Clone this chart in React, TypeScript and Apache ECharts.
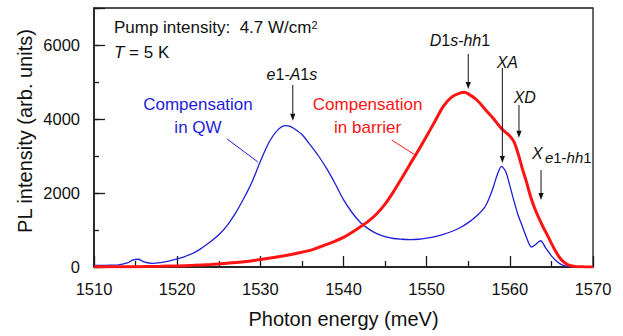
import React, { useEffect, useRef } from 'react';
import * as echarts from 'echarts';

const FONT = '"Liberation Sans", Arial, Helvetica, sans-serif';

// Compensation in QW (blue)
const qwEnergy = [
  1510, 1511, 1512, 1513, 1514, 1514.7, 1515.3, 1516, 1517, 1518, 1519, 1520,
  1521, 1522, 1523, 1524, 1525, 1526, 1527, 1528, 1529, 1530, 1531, 1532, 1533,
  1533.5, 1534, 1535, 1536, 1537, 1538, 1539, 1540, 1541, 1542, 1543, 1544,
  1545, 1546, 1547, 1548, 1549, 1550, 1551, 1552, 1553, 1554, 1555, 1556, 1557,
  1557.5, 1558, 1558.5, 1559, 1559.5, 1560, 1560.5, 1561, 1561.5, 1562, 1562.6,
  1563, 1563.7, 1564.3, 1565, 1565.5, 1566, 1566.5, 1567, 1568, 1570,
];
const qwIntensity = [
  40, 45, 50, 60, 110, 190, 210, 140, 100, 120, 160, 220,
  290, 380, 520, 680, 870, 1120, 1450, 1850, 2300, 2850, 3350, 3680, 3820,
  3810, 3750, 3580, 3300, 3000, 2650, 2250, 1820, 1480, 1210, 1030, 900,
  820, 770, 750, 740, 750, 780, 820, 880, 960, 1060, 1200, 1380, 1620,
  1850, 2150, 2500, 2720, 2580, 2200, 1780, 1400, 1100, 800, 540,
  590, 710, 520, 300, 180, 90, 40, 15, 5, 0,
];

// Compensation in barrier (red)
const barrierEnergy = [
  1510, 1515, 1518, 1520, 1522, 1524, 1525, 1526, 1528, 1530, 1532, 1534, 1535,
  1536, 1537, 1538, 1539, 1540, 1541, 1542, 1543, 1544, 1545, 1546, 1547, 1548,
  1549, 1550, 1551, 1552, 1553, 1554, 1554.5, 1555, 1556, 1557, 1558, 1559,
  1560, 1560.5, 1561, 1561.5, 1562, 1562.5, 1563, 1563.5, 1564, 1564.5, 1565,
  1565.5, 1566, 1566.5, 1567, 1567.5, 1568, 1569, 1570,
];
const barrierIntensity = [
  5, 10, 20, 30, 45, 65, 80, 100, 140, 200, 270, 350, 400,
  450, 530, 610, 700, 800, 930, 1080, 1240, 1440, 1700, 2030, 2400, 2780,
  3150, 3540, 3940, 4340, 4590, 4700, 4720, 4680, 4520, 4270, 4020, 3740,
  3540, 3380, 3060, 2660, 2300, 1900, 1580, 1320, 1080, 870, 640,
  430, 250, 130, 60, 25, 10, 3, 0,
];

// Peak-marker arrows (energy, arrow start, arrow end)
const arrowEnergy = [1533.9, 1555.0, 1559.1, 1561.1, 1563.75];
const arrowFrom = [4920, 5760, 5380, 4380, 2620];
const arrowTo = [3950, 4810, 2810, 3490, 1810];

// Peak labels
const peakLabelText = [
  '{i|e}1-{i|A}1{i|s}',
  '{i|D}1{i|s}-{i|hh}1',
  '{i|XA}',
  '{i|XD}',
  '{i|X}',
];
const peakLabelEnergy = [1533.8, 1554.0, 1559.7, 1561.8, 1563.3];
const peakLabelY = [5200, 6135, 5540, 4570, 3080];

const BLUE = '#1e1ed8';
const RED = '#ff1414';
const INK = '#111111';

export default function App() {
  const ref = useRef<HTMLDivElement>(null);

  useEffect(() => {
    const chart = echarts.init(ref.current!, null, { renderer: 'svg' });
    const axisColor = '#1a1a1a';
    const option: any = {
      animation: false,
      backgroundColor: '#ffffff',
      grid: {
        left: 94, right: 30, top: 8, bottom: 69,
        show: true, borderColor: axisColor, borderWidth: 1.3,
        backgroundColor: 'transparent',
      },
      xAxis: {
        type: 'value', min: 1510, max: 1570, interval: 10,
        name: 'Photon energy (meV)', nameLocation: 'middle', nameGap: 42,
        nameTextStyle: { fontSize: 20, fontFamily: FONT, color: INK },
        axisLine: { show: true, lineStyle: { color: axisColor, width: 1.5 } },
        axisTick: { show: true, inside: true, length: 11, lineStyle: { color: axisColor, width: 1.3 } },
        minorTick: { show: true, splitNumber: 2, length: 6, lineStyle: { color: axisColor, width: 1.3 } },
        axisLabel: {
          fontSize: 16.5, fontFamily: FONT, color: INK, margin: 13,
          formatter: (v: number) => String(v),
        },
        splitLine: { show: false },
        minorSplitLine: { show: false },
      },
      yAxis: [
        {
          type: 'value', min: 0, max: 7000, interval: 1000,
          axisLine: { show: true, lineStyle: { color: axisColor, width: 1.5 } },
          axisTick: { show: true, inside: true, length: 5, lineStyle: { color: axisColor, width: 1.3 } },
          axisLabel: {
            fontSize: 16.5, fontFamily: FONT, color: INK, margin: 14,
            formatter: (v: number) => (v % 2000 === 0 && v < 7000 ? String(v) : ''),
          },
          splitLine: { show: false },
        },
        {
          type: 'value', min: 0, max: 7000, interval: 2000, position: 'left', offset: 0,
          axisLine: { show: false },
          axisTick: { show: true, inside: true, length: 11, lineStyle: { color: axisColor, width: 1.3 } },
          axisLabel: { show: false },
          splitLine: { show: false },
        },
      ],
      series: [
        {
          name: 'Compensation in QW', type: 'line', yAxisIndex: 0,
          data: qwEnergy.map((e, i) => [e, qwIntensity[i]]),
          showSymbol: false, symbol: 'none', smooth: 0.3,
          lineStyle: { color: BLUE, width: 1.3 }, z: 3,
        },
        {
          name: 'Compensation in barrier', type: 'line', yAxisIndex: 0,
          data: barrierEnergy.map((e, i) => [e, barrierIntensity[i]]),
          showSymbol: false, symbol: 'none', smooth: 0.3,
          lineStyle: { color: RED, width: 3 }, z: 4,
        },
      ],
    };
    chart.setOption(option);

    const px = (x: number, y: number) =>
      chart.convertToPixel({ seriesIndex: 0 }, [x, y]) as number[];

    const graphics: any[] = [];
    const baseText = { fontSize: 16, fontFamily: FONT, fill: INK };
    const rich = {
      i: { fontStyle: 'italic', fontSize: 16, fontFamily: FONT, fill: INK },
    };

    // Arrows
    arrowEnergy.forEach((e, k) => {
      const a = px(e, arrowFrom[k]);
      const b = px(e, arrowTo[k]);
      graphics.push({
        type: 'line', shape: { x1: a[0], y1: a[1], x2: b[0], y2: b[1] - 5 },
        style: { stroke: INK, lineWidth: 1 }, z: 20,
      });
      graphics.push({
        type: 'polygon',
        shape: { points: [[b[0] - 2.6, b[1] - 7], [b[0] + 2.6, b[1] - 7], [b[0], b[1]]] },
        style: { fill: INK }, z: 20,
      });
    });

    // Peak labels
    peakLabelText.forEach((t, k) => {
      const p = px(peakLabelEnergy[k], peakLabelY[k]);
      graphics.push({
        type: 'text', x: p[0], y: p[1], z: 20,
        style: { ...baseText, text: t, rich, align: 'center', verticalAlign: 'middle' },
      });
    });
    // subscript of X
    {
      const p = px(1564.1, 2950);
      graphics.push({
        type: 'text', x: p[0] + 1, y: p[1], z: 20,
        style: {
          fontSize: 15, fontFamily: FONT, fill: INK,
          text: '{i|e}1-{i|hh}1',
          rich: { i: { fontStyle: 'italic', fontSize: 15, fontFamily: FONT, fill: INK } },
          align: 'left', verticalAlign: 'middle',
        },
      });
    }

    // Header texts
    {
      const p = px(1512.4, 6460);
      graphics.push({
        type: 'text', x: p[0], y: p[1], z: 20,
        style: {
          fontSize: 17, fontFamily: FONT, fill: INK,
          text: 'Pump intensity:  4.7 W/cm{sup|2}',
          rich: { sup: { fontSize: 11, fontFamily: FONT, fill: INK, verticalAlign: 'top' } },
          align: 'left', verticalAlign: 'middle',
        },
      });
      const q = px(1512.4, 5810);
      graphics.push({
        type: 'text', x: q[0], y: q[1], z: 20,
        style: {
          fontSize: 17, fontFamily: FONT, fill: INK, text: '{i|T} = 5 K',
          rich: { i: { fontStyle: 'italic', fontSize: 17, fontFamily: FONT, fill: INK } },
          align: 'left', verticalAlign: 'middle',
        },
      });
    }

    // Series labels with leader lines
    const seriesLabels = [
      { lines: ['Compensation', 'in QW'], x: 1522.5, color: BLUE, l1: [1526.0, 3460], l2: [1529.7, 2840] },
      { lines: ['Compensation', 'in barrier'], x: 1542.9, color: RED, l1: [1545.8, 3430], l2: [1548.6, 3030] },
    ];
    seriesLabels.forEach((s) => {
      const p1 = px(s.x, 4380);
      const p2 = px(s.x, 3780);
      graphics.push({
        type: 'text', x: p1[0], y: p1[1], z: 20,
        style: { fontSize: 17, fontFamily: FONT, fill: s.color, text: s.lines[0], align: 'center', verticalAlign: 'middle' },
      });
      graphics.push({
        type: 'text', x: p2[0], y: p2[1], z: 20,
        style: { fontSize: 17, fontFamily: FONT, fill: s.color, text: s.lines[1], align: 'center', verticalAlign: 'middle' },
      });
      const a = px(s.l1[0], s.l1[1]);
      const b = px(s.l2[0], s.l2[1]);
      graphics.push({
        type: 'line', shape: { x1: a[0], y1: a[1], x2: b[0], y2: b[1] },
        style: { stroke: s.color, lineWidth: 1 }, z: 20,
      });
    });

    // Y axis title
    graphics.push({
      type: 'text', x: 25, y: 131, rotation: Math.PI / 2, z: 20,
      style: { fontSize: 20, fontFamily: FONT, fill: INK, text: 'PL intensity (arb. units)', align: 'center', verticalAlign: 'middle' },
    });

    chart.setOption({ graphic: graphics });

    return () => chart.dispose();
  }, []);

  return (
    <div
      ref={ref}
      style={{ position: 'fixed', left: 0, top: 0, width: 623, height: 336, background: '#fff' }}
    />
  );
}
